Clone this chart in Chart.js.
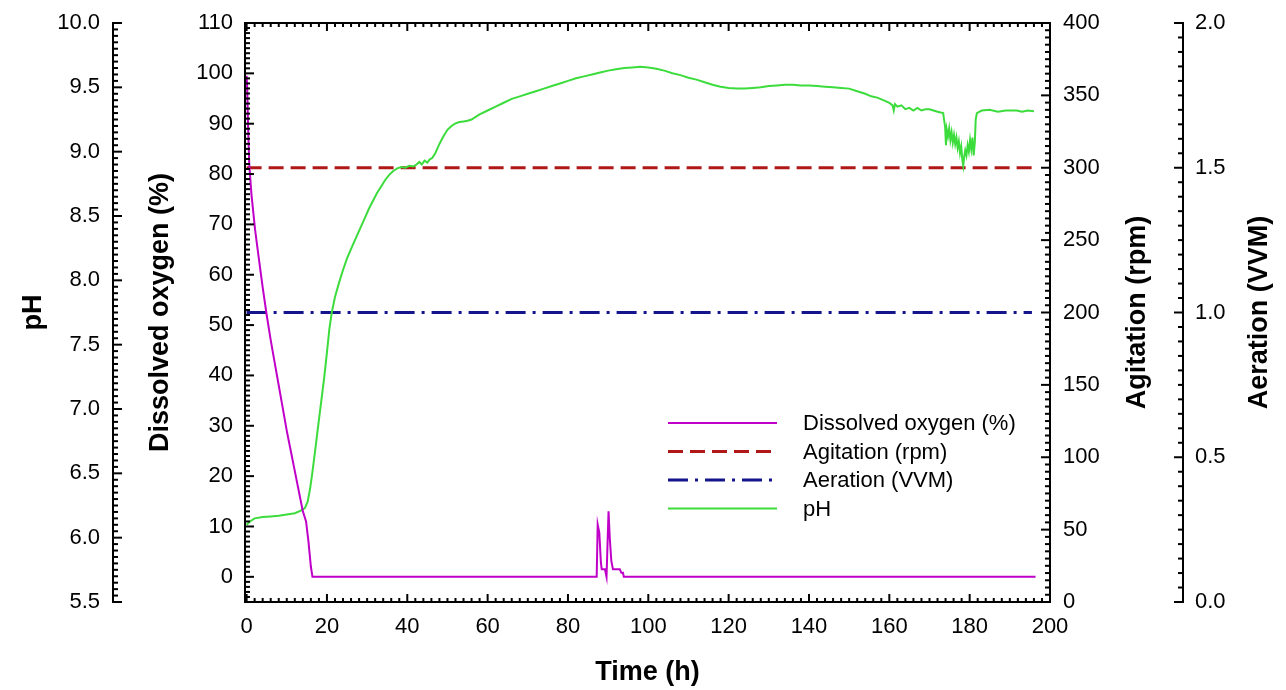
<!DOCTYPE html>
<html>
<head>
<meta charset="utf-8">
<script src="https://cdn.jsdelivr.net/npm/chart.js@4.4.1/dist/chart.umd.min.js"></script>
<style>
  html, body { margin: 0; padding: 0; background: #fff; }
  #wrap { width: 1286px; height: 690px; }
</style>
</head>
<body>
<div id="wrap"><canvas id="bioChart" width="1286" height="690"></canvas></div>
<script>
// ---- data ----
const timeTicks = [0, 20, 40, 60, 80, 100, 120, 140, 160, 180, 200];
const doTicks = [0, 10, 20, 30, 40, 50, 60, 70, 80, 90, 100, 110];
const phTicks = [5.5, 6.0, 6.5, 7.0, 7.5, 8.0, 8.5, 9.0, 9.5, 10.0];
const agitTicks = [0, 50, 100, 150, 200, 250, 300, 350, 400];
const aerTicks = [0.0, 0.5, 1.0, 1.5, 2.0];

// dissolved oxygen (%)
const doHours = [0, 0.15, 0.35, 0.65, 1.2, 2.1, 3, 4, 5, 6, 7, 8, 9, 10, 11, 12, 13, 14, 14.8, 15.4, 16.0, 16.4,
  87.15, 87.4, 87.8, 88.2, 88.4, 89.2, 89.6, 90.1, 90.4, 90.8, 91.2, 92.9, 93.3, 93.7, 93.9, 196.4];
const doValues = [99.5, 97, 90, 82, 76, 69, 63.5, 57.5, 52, 47, 42.5, 38, 33.5, 29, 25, 21, 17, 13, 11, 7, 2, 0,
  0, 10.4, 8.8, 2.8, 1.5, 1.5, 0, 13, 7.8, 3.1, 1.5, 1.5, 0.8, 0.8, 0, 0];

// agitation (rpm) and aeration (VVM) set points
const agitHours = [0, 195.5];
const agitValues = [300, 300];
const aerHours = [0, 195.5];
const aerValues = [1.0, 1.0];

// pH
const phHours = [0, 1, 2, 4, 6, 8, 10, 12, 13.5, 14.5, 15.2, 15.8, 16.3, 17, 17.7, 18.5, 19.3, 20, 20.6,
  21.2, 22, 23, 24, 25, 26.5, 27.5, 28.5, 29.5, 30.5, 31.5, 32.5, 33.5, 34.5, 35.5, 36.5, 37.5,
  38.5, 39.5, 40.5, 41.5, 42.3, 43, 43.6, 44.3, 45, 45.6, 46.2, 47, 48, 49, 50, 51, 52, 53, 54, 55, 56,
  58, 60, 62, 64, 66, 68, 70, 72, 74, 76, 78, 80, 82, 84, 86, 88, 90, 92, 94, 96, 98, 100, 102, 104,
  106, 108, 110, 112, 114, 116, 118, 120, 122, 124, 126, 128, 130, 132, 134, 136, 138, 140, 142, 144,
  146, 148, 150, 152, 154, 155.5, 157, 158.5, 160, 160.8, 161.1, 161.4, 162, 163, 164, 165, 166, 167,
  168, 169, 170, 171, 172, 173.4, 173.6, 173.9, 174.1, 174.3, 174.6, 174.9, 175.2, 175.5, 175.8, 176.1,
  176.4, 176.7, 177.0, 177.3, 177.6, 177.9, 178.2, 178.4, 178.6, 178.9, 179.2, 179.5, 179.8, 180.1,
  180.4, 180.7, 181.0, 181.3, 181.5, 181.8, 183, 185, 187, 189, 191.7, 193, 194.5, 196];
const phValues = [6.10, 6.13, 6.15, 6.16, 6.165, 6.17, 6.18, 6.19, 6.21, 6.23, 6.28, 6.38, 6.49, 6.66,
  6.84, 7.04, 7.24, 7.44, 7.62, 7.75, 7.87, 7.98, 8.08, 8.17, 8.28, 8.35, 8.42, 8.49, 8.56, 8.62, 8.68,
  8.73, 8.78, 8.82, 8.85, 8.87, 8.88, 8.875, 8.89, 8.885, 8.90, 8.92, 8.90, 8.93, 8.915, 8.94, 8.95,
  8.99, 9.06, 9.12, 9.17, 9.20, 9.22, 9.23, 9.235, 9.24, 9.25, 9.29, 9.32, 9.35, 9.38, 9.41, 9.43, 9.45,
  9.47, 9.49, 9.51, 9.53, 9.55, 9.57, 9.585, 9.60, 9.615, 9.63, 9.64, 9.65, 9.655, 9.66, 9.655, 9.645,
  9.63, 9.61, 9.595, 9.575, 9.56, 9.54, 9.52, 9.505, 9.495, 9.49, 9.49, 9.495, 9.50, 9.51, 9.515, 9.52,
  9.52, 9.515, 9.515, 9.51, 9.505, 9.50, 9.495, 9.49, 9.47, 9.45, 9.43, 9.42, 9.40, 9.38, 9.36, 9.32,
  9.37, 9.35, 9.36, 9.33, 9.34, 9.32, 9.34, 9.32, 9.33, 9.33, 9.32, 9.31, 9.30, 9.30, 9.19, 9.05, 9.17,
  9.12, 9.18, 9.09, 9.15, 9.07, 9.13, 9.06, 9.11, 9.03, 9.08, 8.99, 9.04, 8.93, 8.89, 8.95, 9.01, 8.97,
  9.05, 9.00, 9.09, 9.02, 9.11, 8.97, 9.08, 9.25, 9.30, 9.32, 9.325, 9.31, 9.32, 9.32, 9.31, 9.32, 9.315];

const toPoints = (xs, ys) => xs.map((x, i) => ({ x: x, y: ys[i] }));

const FONT = "'Liberation Sans', Arial, sans-serif";

// fixed axis widths; tick padding must not push the plot area down
function fixWidth(w) {
  return s => {
    s.width = w;
    s.paddingTop = 0;
    s.paddingBottom = 0;
  };
}

// frame, tick marks, free-standing axes, y titles and legend
const frameDecor = {
  id: 'frameDecor',
  afterDraw(chart) {
    const { ctx, chartArea: a, scales } = chart;
    ctx.save();
    ctx.strokeStyle = '#000';
    ctx.lineWidth = 2;

    const seg = (x1, y1, x2, y2) => {
      ctx.beginPath();
      ctx.moveTo(x1, y1);
      ctx.lineTo(x2, y2);
      ctx.stroke();
    };

    ctx.strokeRect(a.left, a.top, a.right - a.left, a.bottom - a.top);

    // top + bottom edges: minor every 2 h, major every 20 h
    for (let i = 0; i <= 100; i++) {
      const px = scales.x.getPixelForValue(i * 2);
      const len = i % 10 === 0 ? 8 : 4;
      seg(px, a.bottom, px, a.bottom - len);
      seg(px, a.top, px, a.top + len);
    }

    // vertical axis ticks
    function vTicks(scale, x, min, max, step, major, dir) {
      const n = Math.round((max - min) / step);
      for (let i = 0; i <= n; i++) {
        const v = min + i * step;
        const r = v / major;
        const isMajor = Math.abs(r - Math.round(r)) < 1e-6;
        const py = scale.getPixelForValue(v);
        seg(x, py, x + dir * (isMajor ? 9 : 5), py);
      }
    }

    const phX = 113;
    const aerX = 1183;
    seg(phX, scales.yPH.getPixelForValue(5.5) + 1, phX, scales.yPH.getPixelForValue(10) - 1);
    seg(aerX, scales.yAer.getPixelForValue(0) + 1, aerX, scales.yAer.getPixelForValue(2) - 1);

    vTicks(scales.yPH, phX, 5.5, 10, 0.05, 0.5, 1);
    vTicks(scales.yDO, a.left, -5, 110, 1, 10, 1);
    vTicks(scales.yAgit, a.right, 0, 400, 5, 50, -1);
    vTicks(scales.yAer, aerX, 0, 2, 0.05, 0.5, -1);

    // y axis titles, all reading bottom to top
    const midY = (a.top + a.bottom) / 2;
    const yTitles = [
      { text: 'pH', x: 34 },
      { text: 'Dissolved oxygen (%)', x: 161 },
      { text: 'Agitation (rpm)', x: 1138 },
      { text: 'Aeration (VVM)', x: 1260 }
    ];
    ctx.fillStyle = '#000';
    ctx.font = 'bold 27px ' + FONT;
    ctx.textAlign = 'center';
    ctx.textBaseline = 'middle';
    yTitles.forEach(t => {
      ctx.save();
      ctx.translate(t.x, midY);
      ctx.rotate(-Math.PI / 2);
      ctx.fillText(t.text, 0, 0);
      ctx.restore();
    });

    // legend inside the plot
    ctx.font = '22px ' + FONT;
    ctx.textAlign = 'left';
    chart.data.datasets.forEach((ds, i) => {
      const y = 423 + i * 28.5;
      ctx.save();
      ctx.strokeStyle = ds.borderColor;
      ctx.lineWidth = ds.borderWidth;
      ctx.setLineDash(ds.borderDash || []);
      seg(668, y, 777, y);
      ctx.restore();
      ctx.fillStyle = '#000';
      ctx.fillText(ds.label, 803, y + 1);
    });

    ctx.restore();
  }
};

const tickFont = { family: FONT, size: 22 };

new Chart(document.getElementById('bioChart'), {
  type: 'line',
  data: {
    datasets: [
      {
        label: 'Dissolved oxygen (%)',
        data: toPoints(doHours, doValues),
        borderColor: '#c000c8',
        borderWidth: 2,
        yAxisID: 'yDO',
        order: 0
      },
      {
        label: 'Agitation (rpm)',
        data: toPoints(agitHours, agitValues),
        borderColor: '#b01818',
        borderWidth: 3,
        borderDash: [15, 7],
        yAxisID: 'yAgit',
        order: 2
      },
      {
        label: 'Aeration (VVM)',
        data: toPoints(aerHours, aerValues),
        borderColor: '#14148c',
        borderWidth: 3,
        borderDash: [20, 7, 3, 7],
        yAxisID: 'yAer',
        order: 3
      },
      {
        label: 'pH',
        data: toPoints(phHours, phValues),
        borderColor: '#3cdc3c',
        borderWidth: 2,
        yAxisID: 'yPH',
        order: 1
      }
    ]
  },
  options: {
    responsive: false,
    animation: false,
    devicePixelRatio: 1,
    layout: { padding: { top: 23, left: 0, right: 0, bottom: 0 } },
    elements: {
      point: { radius: 0, hoverRadius: 0 },
      line: { tension: 0, fill: false }
    },
    plugins: {
      legend: { display: false },
      tooltip: { enabled: false }
    },
    scales: {
      x: {
        type: 'linear',
        position: 'bottom',
        min: -0.4,
        max: 200,
        afterBuildTicks: s => { s.ticks = timeTicks.map(v => ({ value: v })); },
        afterFit: s => { s.height = 88; },
        grid: { display: false, drawTicks: false },
        border: { display: false },
        ticks: { font: tickFont, color: '#000', padding: 12, maxRotation: 0 },
        title: {
          display: true,
          text: 'Time (h)',
          color: '#000',
          font: { family: FONT, size: 27, weight: 'bold' },
          padding: { top: 0, bottom: 1 }
        }
      },
      yDO: {
        type: 'linear',
        position: 'left',
        weight: 0,
        min: -5,
        max: 110,
        afterBuildTicks: s => { s.ticks = doTicks.map(v => ({ value: v })); },
        afterFit: fixWidth(110),
        grid: { display: false, drawTicks: false },
        border: { display: false },
        ticks: { font: tickFont, color: '#000', padding: 12 }
      },
      yPH: {
        type: 'linear',
        position: 'left',
        weight: 1,
        min: 5.5,
        max: 10,
        afterBuildTicks: s => { s.ticks = phTicks.map(v => ({ value: v })); },
        afterFit: fixWidth(135),
        grid: { display: false, drawTicks: false },
        border: { display: false },
        ticks: { font: tickFont, color: '#000', padding: 35, callback: v => v.toFixed(1) }
      },
      yAgit: {
        type: 'linear',
        position: 'right',
        weight: 0,
        min: 0,
        max: 400,
        afterBuildTicks: s => { s.ticks = agitTicks.map(v => ({ value: v })); },
        afterFit: fixWidth(110),
        grid: { display: false, drawTicks: false },
        border: { display: false },
        ticks: { font: tickFont, color: '#000', padding: 13 }
      },
      yAer: {
        type: 'linear',
        position: 'right',
        weight: 1,
        min: 0,
        max: 2,
        afterBuildTicks: s => { s.ticks = aerTicks.map(v => ({ value: v })); },
        afterFit: fixWidth(126),
        grid: { display: false, drawTicks: false },
        border: { display: false },
        ticks: { font: tickFont, color: '#000', padding: 35, callback: v => v.toFixed(1) }
      }
    }
  },
  plugins: [frameDecor]
});
</script>
</body>
</html>
